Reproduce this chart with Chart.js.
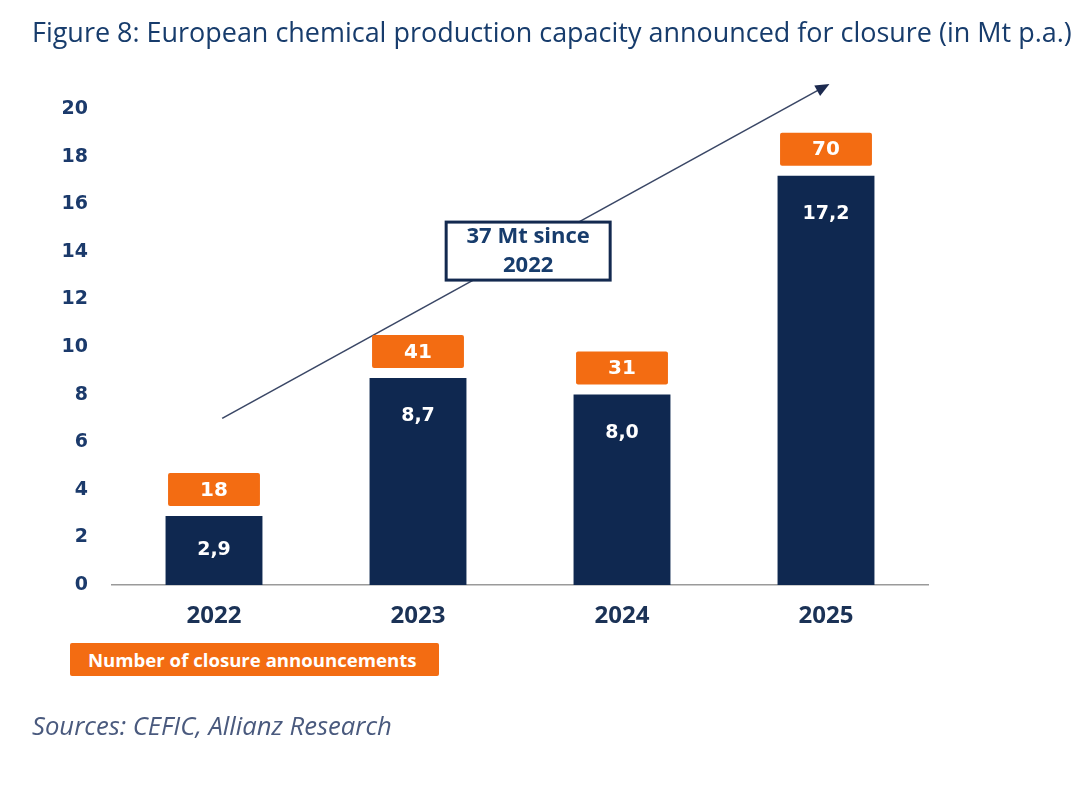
<!DOCTYPE html>
<html><head><meta charset="utf-8">
<script src="https://cdn.jsdelivr.net/npm/chart.js@4/dist/chart.umd.min.js"></script>
<style>
html,body{margin:0;padding:0;background:#fff;width:1080px;height:808px;overflow:hidden}
#wrap{position:relative;width:1080px;height:808px}
#c{position:absolute;left:0;top:0}
#title{position:absolute;left:32px;top:16px;font-family:"Open Sans";font-weight:500;font-size:24px;line-height:32px;color:#173c6c;white-space:nowrap}
#legend{position:absolute;left:70px;top:643px;width:351px;height:33px;padding-left:18px;background:#f36c12;color:#fff;font-family:"Open Sans";font-weight:700;font-size:18.6px;line-height:33px;border-radius:2px;white-space:nowrap}
#source{position:absolute;left:32px;top:711px;font-family:"Open Sans";font-style:italic;font-weight:400;font-size:22px;line-height:30px;color:#4a5a7e;white-space:nowrap}
</style></head>
<body><div id="wrap">
<canvas id="c" width="1080" height="808"></canvas>
<div id="title">Figure 8: European chemical production capacity announced for closure (in Mt p.a.)</div>
<div id="legend">Number of closure announcements</div>
<div id="source">Sources: CEFIC, Allianz Research</div>
</div>
<script>
const categories = ['2022', '2023', '2024', '2025'];
const capacity = [2.9, 8.7, 8.0, 17.2];           // Mt p.a. announced for closure
const announcements = [18, 41, 31, 70];          // number of closure announcements
const yTickValues = [0, 2, 4, 6, 8, 10, 12, 14, 16, 18, 20];
const annotationLines = ['37 Mt since', '2022'];

// fit title / source widths to reference
(function(){
  const t = document.getElementById('title');
  const w = t.getBoundingClientRect().width;
  t.style.fontSize = (24 * 1040 / w).toFixed(2) + 'px';
  const s = document.getElementById('source');
  const ws = s.getBoundingClientRect().width;
  s.style.fontSize = (22 * 360 / ws).toFixed(2) + 'px';
})();

const NAVY = '#0f2850';
const ORANGE = '#f36c12';

const overlay = {
  id: 'overlay',
  beforeDatasetsDraw(chart, args, o) {
    const {ctx, scales: {x, y}} = chart;
    const x1 = x.getPixelForValue(o.arrowFrom.x), y1 = y.getPixelForValue(o.arrowFrom.y);
    const x2 = x.getPixelForValue(o.arrowTo.x), y2 = y.getPixelForValue(o.arrowTo.y);
    const ang = Math.atan2(y2 - y1, x2 - x1);
    const L = 14, H = 6;
    ctx.save();
    ctx.strokeStyle = '#3a4766';
    ctx.lineWidth = 1.6;
    ctx.beginPath();
    ctx.moveTo(x1, y1);
    ctx.lineTo(x2 - Math.cos(ang) * L * 0.8, y2 - Math.sin(ang) * L * 0.8);
    ctx.stroke();
    ctx.fillStyle = '#1c2a4f';
    ctx.beginPath();
    ctx.moveTo(x2, y2);
    ctx.lineTo(x2 - Math.cos(ang) * L - Math.sin(ang) * H, y2 - Math.sin(ang) * L + Math.cos(ang) * H);
    ctx.lineTo(x2 - Math.cos(ang) * L + Math.sin(ang) * H, y2 - Math.sin(ang) * L - Math.cos(ang) * H);
    ctx.closePath();
    ctx.fill();
    ctx.restore();
  },
  afterDatasetsDraw(chart, args, o) {
    const {ctx, scales: {x, y}} = chart;
    const meta = chart.getDatasetMeta(0);
    ctx.save();
    meta.data.forEach((el, i) => {
      const top = el.y, base = el.base;
      ctx.fillStyle = '#ffffff';
      ctx.font = 'bold 19px "DejaVu Sans"';
      ctx.textAlign = 'center';
      ctx.textBaseline = 'middle';
      const ly = Math.min(top + 38, (top + base) / 2);
      ctx.fillText(capacity[i].toLocaleString('de-DE', {minimumFractionDigits: 1, maximumFractionDigits: 1}), el.x, ly);
      const bw = el.width - 5, bh = 33;
      const by = top - 10 - bh;
      ctx.fillStyle = ORANGE;
      ctx.beginPath();
      ctx.roundRect(el.x - bw / 2, by, bw, bh, 2);
      ctx.fill();
      ctx.fillStyle = '#ffffff';
      ctx.font = 'bold 20px "DejaVu Sans"';
      ctx.fillText(String(announcements[i]), el.x, by + bh / 2 + 1);
    });
    const cx = x.getPixelForValue(o.box.x), cy = y.getPixelForValue(o.box.y);
    const w = 164, h = 58;
    ctx.fillStyle = '#ffffff';
    ctx.strokeStyle = '#13294f';
    ctx.lineWidth = 3;
    ctx.fillRect(cx - w / 2, cy - h / 2, w, h);
    ctx.strokeRect(cx - w / 2, cy - h / 2, w, h);
    ctx.fillStyle = '#173c6c';
    ctx.font = 'bold 22px "Open Sans"';
    ctx.textAlign = 'center';
    ctx.textBaseline = 'middle';
    ctx.fillText(annotationLines[0], cx, cy - 14);
    ctx.fillText(annotationLines[1], cx, cy + 15);
    ctx.restore();
  }
};

new Chart(document.getElementById('c'), {
  type: 'bar',
  data: {
    labels: categories,
    datasets: [{
      data: capacity,
      backgroundColor: NAVY,
      borderWidth: 0,
      barPercentage: 0.475,
      categoryPercentage: 1.0
    }]
  },
  options: {
    responsive: false,
    animation: false,
    devicePixelRatio: 1,
    layout: {padding: {left: 0, right: 152, top: 109, bottom: 163}},
    plugins: {
      legend: {display: false},
      tooltip: {enabled: false},
      title: {display: false},
      overlay: {
        arrowFrom: {x: 0.04, y: 7.0},
        arrowTo: {x: 3.017, y: 21.05},
        box: {x: 1.54, y: 14.03}
      }
    },
    scales: {
      x: {
        grid: {display: false, drawTicks: false},
        border: {display: true, color: '#9a9a9a', width: 1.5},
        ticks: {color: '#1b3256', font: {family: 'Open Sans', weight: 'bold', size: 24}, padding: 17},
        afterFit(s) { s.height = 60; }
      },
      y: {
        min: 0, max: 20,
        afterBuildTicks(s) { s.ticks = yTickValues.map(v => ({value: v})); },
        grid: {display: false, drawTicks: false},
        border: {display: false},
        ticks: {color: '#1b3a6b', font: {family: 'DejaVu Sans', weight: 'bold', size: 19}, padding: 24},
        afterFit(s) { s.width = 112; }
      }
    }
  },
  plugins: [overlay]
});
</script>
</body></html>
